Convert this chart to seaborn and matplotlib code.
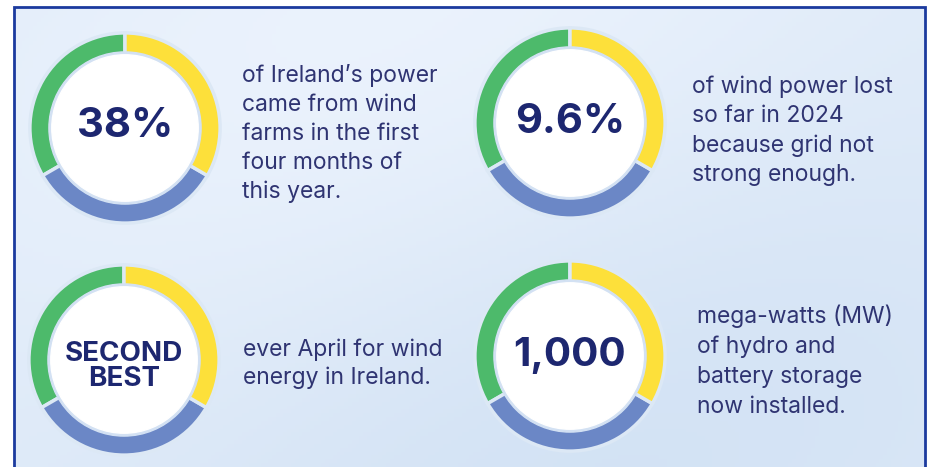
import numpy as np
import seaborn as sns
import matplotlib.pyplot as plt
from matplotlib.patches import Circle

sns.set_theme(style="white")
plt.rcParams['font.family'] = ['Inter', 'DejaVu Sans']

# data
headlines = ["38%", "9.6%", "SECOND\nBEST", "1,000"]
captions = [
    ["of Ireland\u2019s power", "came from wind", "farms in the first", "four months of", "this year."],
    ["of wind power lost", "so far in 2024", "because grid not", "strong enough."],
    ["ever April for wind", "energy in Ireland."],
    ["mega-watts (MW)", "of hydro and", "battery storage", "now installed."],
]
ring_shares = [1, 1, 1]
ring_colors = ["#4dba6b", "#6b87c6", "#fde03a"]

# layout (pixels in a 928x467 canvas)
W, H = 928, 467
centers = [(125, 128), (570, 123), (124, 360), (570, 356)]
R = 97
head_sizes = [30, 30, 20, 29]
head_dy = [0.02, 0.01, -0.07, 0.01]
cap_pos = [(242, 82), (692, 93), (243, 356), (697, 323)]
cap_step = [29, 29.5, 28, 30]

navy = "#1d2770"
body = "#2f3472"

fig = plt.figure(figsize=(W / 100, H / 100), dpi=100)
fig.patch.set_facecolor("white")

bg = fig.add_axes([0, 0, 1, 1])
bg.set_xlim(0, W)
bg.set_ylim(H, 0)
bg.axis("off")

# sky-like soft background
yy, xx = np.mgrid[0:1:120j, 0:1:240j]
sky = 0.55 + 0.25 * np.cos(yy * 3.0) * 0.6 + 0.15 * np.sin(xx * 4 + yy * 2)
sky = (sky - sky.min()) / (sky.max() - sky.min())
c_lo = np.array([0.83, 0.89, 0.96])
c_hi = np.array([0.92, 0.95, 0.99])
img = c_lo + (c_hi - c_lo) * sky[..., None]
bg.imshow(img, extent=[14, 925, H, 7], aspect="auto", zorder=0)
bg.plot([14, 14, 925, 925], [H, 7, 7, H], color="#1b3a9e", lw=2, zorder=1,
        solid_joinstyle="miter")

for i, (cx, cy) in enumerate(centers):
    ax = fig.add_axes([(cx - R) / W, 1 - (cy + R) / H, 2 * R / W, 2 * R / H])
    ax.pie(ring_shares, colors=ring_colors, startangle=90, counterclock=True,
           radius=1.0,
           wedgeprops=dict(width=0.23, edgecolor="#dce8f5", linewidth=2.5))
    ax.add_patch(Circle((0, 0), 0.80, color="#d3e1f3", zorder=3))
    ax.add_patch(Circle((0, 0), 0.77, color="white", zorder=4))
    ax.text(0, head_dy[i], headlines[i], ha="center", va="center",
            fontsize=head_sizes[i], fontweight="bold", color=navy, zorder=5,
            linespacing=0.95)
    ax.set_xlim(-1.02, 1.02)
    ax.set_ylim(-1.02, 1.02)
    ax.set_aspect("equal")
    ax.axis("off")

for i, lines in enumerate(captions):
    x0, y0 = cap_pos[i]
    for k, line in enumerate(lines):
        bg.text(x0, y0 + k * cap_step[i], line, ha="left", va="baseline",
                fontsize=16.5, color=body, zorder=2)

fig.savefig("out.png", dpi=100)
